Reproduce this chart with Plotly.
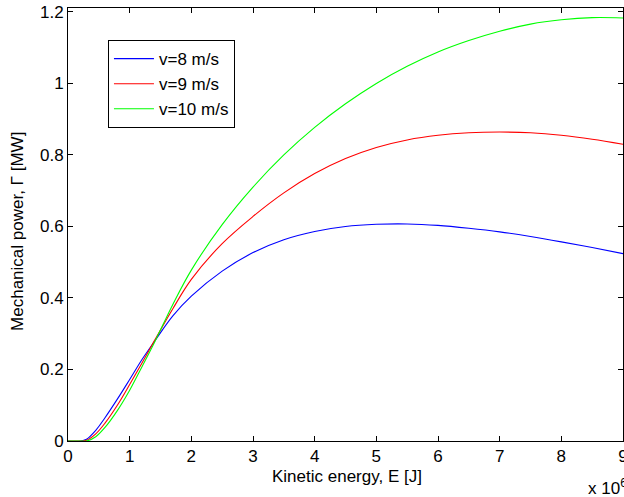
import plotly.graph_objects as go

# Kinetic energy (x 10^6 J)
E = [0, 0.2, 0.3, 0.45, 0.6, 0.8, 1.0, 1.2, 1.4, 1.7, 2.0, 2.5, 3, 3.5, 4, 4.5, 5, 5.5, 6, 6.5, 7, 7.5, 8, 8.5, 9]

p_v8 = [0, 0, 0.005, 0.03, 0.065, 0.117, 0.172, 0.228, 0.278, 0.35, 0.405, 0.475, 0.527, 0.563, 0.586, 0.6, 0.606, 0.607, 0.603, 0.595, 0.585, 0.572, 0.557, 0.541, 0.524]
p_v9 = [0, 0, 0.002, 0.02, 0.05, 0.1, 0.158, 0.218, 0.28, 0.37, 0.452, 0.552, 0.628, 0.694, 0.748, 0.79, 0.821, 0.842, 0.855, 0.862, 0.864, 0.862, 0.855, 0.844, 0.83]
p_v10 = [0, 0, 0, 0.012, 0.038, 0.085, 0.142, 0.208, 0.275, 0.382, 0.478, 0.605, 0.71, 0.8, 0.877, 0.943, 1.0, 1.048, 1.088, 1.12, 1.146, 1.166, 1.178, 1.184, 1.183]

series = [("v=8 m/s", p_v8, "#0000ff"), ("v=9 m/s", p_v9, "#ff0000"), ("v=10 m/s", p_v10, "#00ff00")]

x_ticks = [0, 1, 2, 3, 4, 5, 6, 7, 8, 9]
y_ticks = [0, 0.2, 0.4, 0.6, 0.8, 1, 1.2]
y_tick_labels = ["0", "0.2", "0.4", "0.6", "0.8", "1", "1.2"]

FONT = "Liberation Sans, Arial, Helvetica, sans-serif"
FS = 17

fig = go.Figure()
for name, vals, col in series:
    fig.add_trace(go.Scatter(x=E, y=vals, mode="lines", name=name,
                             line=dict(color=col, width=1.1, shape="spline", smoothing=1.0)))

axis_common = dict(showline=True, linecolor="black", linewidth=1, mirror="ticks",
                   ticks="inside", ticklen=5, tickcolor="black", showgrid=False,
                   zeroline=False, automargin=False,
                   tickfont=dict(family=FONT, size=FS, color="black"))

fig.update_xaxes(range=[0, 9], tickvals=x_ticks, ticklabeloverflow="allow", **axis_common)
fig.update_yaxes(range=[0, 1.211], tickvals=y_ticks, ticktext=y_tick_labels, **axis_common)

fig.update_layout(
    width=624, height=497,
    margin=dict(l=68, r=1, t=8, b=56, autoexpand=False),
    paper_bgcolor="white", plot_bgcolor="white",
    font=dict(family=FONT, size=FS, color="black"),
    showlegend=True,
    legend=dict(x=0.072, y=0.926, xanchor="left", yanchor="top",
                bgcolor="white", bordercolor="black", borderwidth=1,
                tracegroupgap=0, itemwidth=40,
                font=dict(family=FONT, size=17, color="black")),
    annotations=[
        dict(text="Kinetic energy, E [J]", xref="paper", yref="paper", x=0.503, y=-0.083,
             xanchor="center", yanchor="middle", showarrow=False, font=dict(size=FS)),
        dict(text="Mechanical power, \u0393 [MW]", xref="paper", yref="paper", x=-0.09, y=0.483,
             xanchor="center", yanchor="middle", textangle=-90, showarrow=False, font=dict(size=FS)),
        dict(text="x 10<sup>6</sup>", xref="paper", yref="paper", x=0.933, y=-0.106,
             xanchor="left", yanchor="middle", showarrow=False, font=dict(size=FS)),
    ],
)

fig.write_html("out.html")
